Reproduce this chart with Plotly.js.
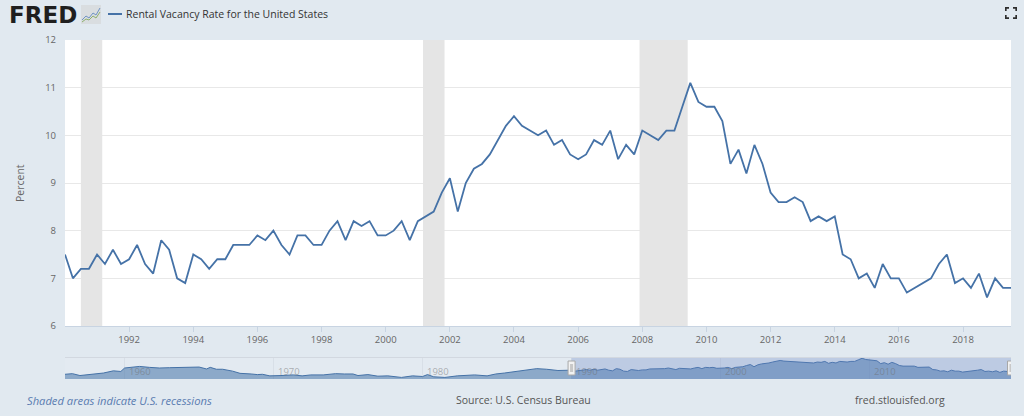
<!DOCTYPE html>
<html>
<head>
<meta charset="utf-8">
<script src="https://cdn.plot.ly/plotly-3.0.1.min.js"></script>
<style>html,body{margin:0;padding:0;background:#e1e9f0;overflow:hidden}#chart{width:1024px;height:416px}</style>
</head>
<body>
<div id="chart"></div>
<script>
// Quarterly rental vacancy rate, 1990 Q1 – 2019 Q3
const vacancyValues = [
  7.5,7.0,7.2,7.2, 7.5,7.3,7.6,7.3, 7.4,7.7,7.3,7.1, 7.8,7.6,7.0,6.9,
  7.5,7.4,7.2,7.4, 7.4,7.7,7.7,7.7, 7.9,7.8,8.0,7.7, 7.5,7.9,7.9,7.7,
  7.7,8.0,8.2,7.8, 8.2,8.1,8.2,7.9, 7.9,8.0,8.2,7.8, 8.2,8.3,8.4,8.8,
  9.1,8.4,9.0,9.3, 9.4,9.6,9.9,10.2, 10.4,10.2,10.1,10.0, 10.1,9.8,9.9,9.6,
  9.5,9.6,9.9,9.8, 10.1,9.5,9.8,9.6, 10.1,10.0,9.9,10.1, 10.1,10.6,11.1,10.7,
  10.6,10.6,10.3,9.4, 9.7,9.2,9.8,9.4, 8.8,8.6,8.6,8.7, 8.6,8.2,8.3,8.2,
  8.3,7.5,7.4,7.0, 7.1,6.8,7.3,7.0, 7.0,6.7,6.8,6.9, 7.0,7.3,7.5,6.9,
  7.0,6.8,7.1,6.6, 7.0,6.8,6.8
];
// Earlier history shown only in the navigator strip
const historyDates = ["1956-01-01","1956-07-01","1957-01-01","1957-05-01","1958-01-01","1958-08-01","1959-04-01","1959-10-01","1960-01-01","1961-01-01","1961-09-01","1962-05-01","1963-01-01","1964-05-01","1965-01-01","1965-07-01","1965-10-01","1966-03-01","1966-08-01","1967-04-01","1967-10-01","1968-07-01","1968-12-01","1969-04-01","1969-10-01","1970-07-01","1971-05-01","1971-12-01","1972-07-01","1973-05-01","1974-03-01","1974-10-01","1975-05-01","1975-09-01","1976-05-01","1977-01-01","1977-09-01","1978-08-01","1979-05-01","1980-01-01","1980-05-01","1980-10-01","1981-07-01","1982-05-01","1983-07-01","1984-05-01","1984-12-01","1985-07-01","1986-03-01","1986-12-01","1987-09-01","1988-05-01","1989-02-01","1989-12-01"];
const historyValues = [6.0,6.2,5.6,5.8,6.2,6.4,7.1,6.9,8.0,8.5,8.2,8.0,8.1,8.2,8.3,7.7,8.2,7.6,7.6,7.0,6.3,6.1,5.9,6.0,5.5,5.6,5.8,5.5,5.8,5.8,6.2,6.1,6.1,5.6,5.9,5.4,5.5,5.0,5.5,5.3,5.9,5.2,5.0,5.5,5.8,5.5,6.1,6.4,6.8,7.3,7.8,7.6,7.2,7.3];
const recessionStarts = ["1990-07-01","2001-03-01","2007-12-01"];
const recessionEnds = ["1991-03-01","2001-11-01","2009-06-01"];
const yTicks = [6,7,8,9,10,11,12];
const xTickYears = [1992,1994,1996,1998,2000,2002,2004,2006,2008,2010,2012,2014,2016,2018];
const navLabelYears = [1960,1970,1980,1990,2000,2010];
const seriesName = "Rental Vacancy Rate for the United States";
const firstYear = 1990;

const quarterDates = vacancyValues.map((_, i) => {
  const y = firstYear + Math.floor(i / 4), m = (i % 4) * 3 + 1;
  return y + "-" + String(m).padStart(2, "0") + "-01";
});
const mainStart = quarterDates[0], mainEnd = quarterDates[quarterDates.length - 1];
const navStart = historyDates[0];
const yRange = [yTicks[0], yTicks[yTicks.length - 1]];
const navRange = [4.5, 11.5];

const W = 1024, H = 416;
const px = x => x / W, py = y => 1 - y / H;
const FONT = '"Open Sans", sans-serif';
const BG = "#e1e9f0", LINE = "#4572a7", TXT = "#666666";

const thumb = 'data:image/svg+xml;utf8,' + encodeURIComponent(
  '<svg xmlns="http://www.w3.org/2000/svg" width="20" height="19" viewBox="0 0 20 19">' +
  '<rect width="20" height="19" fill="#d9dde0"/>' +
  '<path d="M1 15 L5 11 L8 13 L12 8 L15 10 L19 3" fill="none" stroke="#6f93c4" stroke-width="1"/>' +
  '<path d="M1 17 L5 14 L8 15 L12 11 L15 13 L19 7" fill="none" stroke="#8fb06f" stroke-width="1"/></svg>');
const expand = 'data:image/svg+xml;utf8,' + encodeURIComponent(
  '<svg xmlns="http://www.w3.org/2000/svg" width="12" height="12" viewBox="0 0 12 12">' +
  '<path d="M0.8 4V0.8H4 M8 0.8H11.2V4 M0.8 8V11.2H4 M8 11.2H11.2V8" fill="none" stroke="#2d2d2d" stroke-width="1.7"/></svg>');

const shapes = [];
shapes.push({type:"rect",xref:"x2",yref:"y2",x0:navStart,x1:mainEnd,y0:navRange[0],y1:navRange[1],layer:"below",fillcolor:"#e3eaf1",line:{width:0}});
recessionStarts.forEach((s, i) => shapes.push({type:"rect",xref:"x",yref:"y",x0:s,x1:recessionEnds[i],y0:yRange[0],y1:yRange[1],layer:"between",fillcolor:"#e5e5e5",line:{width:0}}));
// navigator selection
shapes.push({type:"rect",xref:"x2",yref:"y2",x0:mainStart,x1:mainEnd,y0:navRange[0],y1:navRange[1],layer:"above",fillcolor:"rgba(102,133,194,0.3)",line:{width:0}});
shapes.push({type:"line",xref:"paper",yref:"paper",x0:px(65),x1:px(1011),y0:py(357.5),y1:py(357.5),layer:"above",line:{color:"#d2d8e0",width:1}});
[mainStart, mainEnd].forEach(d => {
  shapes.push({type:"rect",xref:"x2",yref:"paper",xsizemode:"pixel",xanchor:d,x0:-3.5,x1:3.5,y0:py(375),y1:py(361),layer:"above",fillcolor:"#f2f2f2",line:{color:"#a8a8a8",width:1}});
  shapes.push({type:"rect",xref:"x2",yref:"paper",xsizemode:"pixel",xanchor:d,x0:-1.5,x1:1.5,y0:py(372),y1:py(364),layer:"above",fillcolor:"#c8c8c8",line:{width:0}});
});
// legend key
shapes.push({type:"line",xref:"paper",yref:"paper",x0:px(108),x1:px(122),y0:py(14),y1:py(14),layer:"above",line:{color:LINE,width:2}});

const ann = (text, x, y, size, color, anchor, extra) => Object.assign({
  text, xref:"paper", yref:"paper", x:px(x), y:py(y), xanchor:anchor, yanchor:"middle",
  showarrow:false, font:{family:FONT,size,color}
}, extra || {});

const annotations = [
  ann(seriesName, 124, 14, 10.5, "#333333", "left"),
  ann("<b>FRED</b>", 7, 15, 23, "#1f1f1f", "left", {font:{family:'"DejaVu Sans"',size:23,color:"#1f1f1f"}}),
  ann("<i>Shaded areas indicate U.S. recessions</i>", 25, 400, 11.2, "#5a7cb0", "left"),
  ann("Source: U.S. Census Bureau", 454, 400, 10.5, "#555555", "left"),
  ann("fred.stlouisfed.org", 853, 400, 10.5, "#555555", "left"),
  ann("Percent", 20, 183, 10.5, TXT, "center", {textangle:-90})
];
navLabelYears.forEach(y => annotations.push({
  text:String(y), xref:"x2", yref:"paper", x:y + "-01-01", y:py(371), xanchor:"left", yanchor:"middle", xshift:2,
  showarrow:false, font:{family:FONT,size:9.5,color:"rgba(110,110,110,0.5)"}
}));

const data = [
  {type:"scatter",mode:"lines",x:quarterDates,y:vacancyValues,xaxis:"x",yaxis:"y",
   line:{color:LINE,width:1.8},hoverinfo:"x+y",showlegend:false},
  {type:"scatter",mode:"lines",x:historyDates.concat(quarterDates),y:historyValues.concat(vacancyValues),xaxis:"x2",yaxis:"y2",
   fill:"tozeroy",fillcolor:"rgba(69,114,167,0.55)",line:{color:LINE,width:1},hoverinfo:"skip",showlegend:false}
];

const layout = {
  width:W,height:H,margin:{l:0,r:0,t:0,b:0},
  paper_bgcolor:BG,plot_bgcolor:"#ffffff",showlegend:false,
  font:{family:FONT,color:TXT,size:10},
  xaxis:{type:"date",domain:[px(65),px(1011)],range:[mainStart,mainEnd],anchor:"y",
    tickmode:"array",tickvals:xTickYears.map(y=>y+"-01-01"),ticktext:xTickYears.map(String),
    ticks:"outside",ticklen:5,tickcolor:"#c8d4e2",tickwidth:1,showline:true,linecolor:"#c8d4e2",linewidth:1,
    showgrid:false,zeroline:false,tickfont:{family:FONT,size:9.5,color:TXT}},
  yaxis:{domain:[py(326),py(40)],range:yRange,anchor:"x",tickmode:"array",tickvals:yTicks,ticktext:yTicks.map(String),
    showgrid:true,gridcolor:"#e8e8e8",gridwidth:1,zeroline:false,showline:false,ticks:"",ticklabelstandoff:8,
    tickfont:{family:FONT,size:9.5,color:TXT}},
  xaxis2:{type:"date",domain:[px(65),px(1011)],range:[navStart,mainEnd],anchor:"y2",
    tickmode:"array",tickvals:navLabelYears.map(y=>y+"-01-01"),showticklabels:false,ticks:"",
    showgrid:true,gridcolor:"#d8dfe7",gridwidth:1,zeroline:false,showline:false},
  yaxis2:{domain:[py(379),py(357)],range:navRange,anchor:"x2",showticklabels:false,ticks:"",showgrid:false,zeroline:false,showline:false},
  shapes,annotations,
  images:[
    {source:thumb,xref:"paper",yref:"paper",x:px(81),y:py(5),sizex:px(20),sizey:19/H,xanchor:"left",yanchor:"top",sizing:"stretch",layer:"above"},
    {source:expand,xref:"paper",yref:"paper",x:px(1005),y:py(7),sizex:px(12),sizey:12/H,xanchor:"left",yanchor:"top",sizing:"stretch",layer:"above"}
  ]
};
Plotly.newPlot("chart",data,layout,{displayModeBar:false,responsive:false});
</script>
</body>
</html>
